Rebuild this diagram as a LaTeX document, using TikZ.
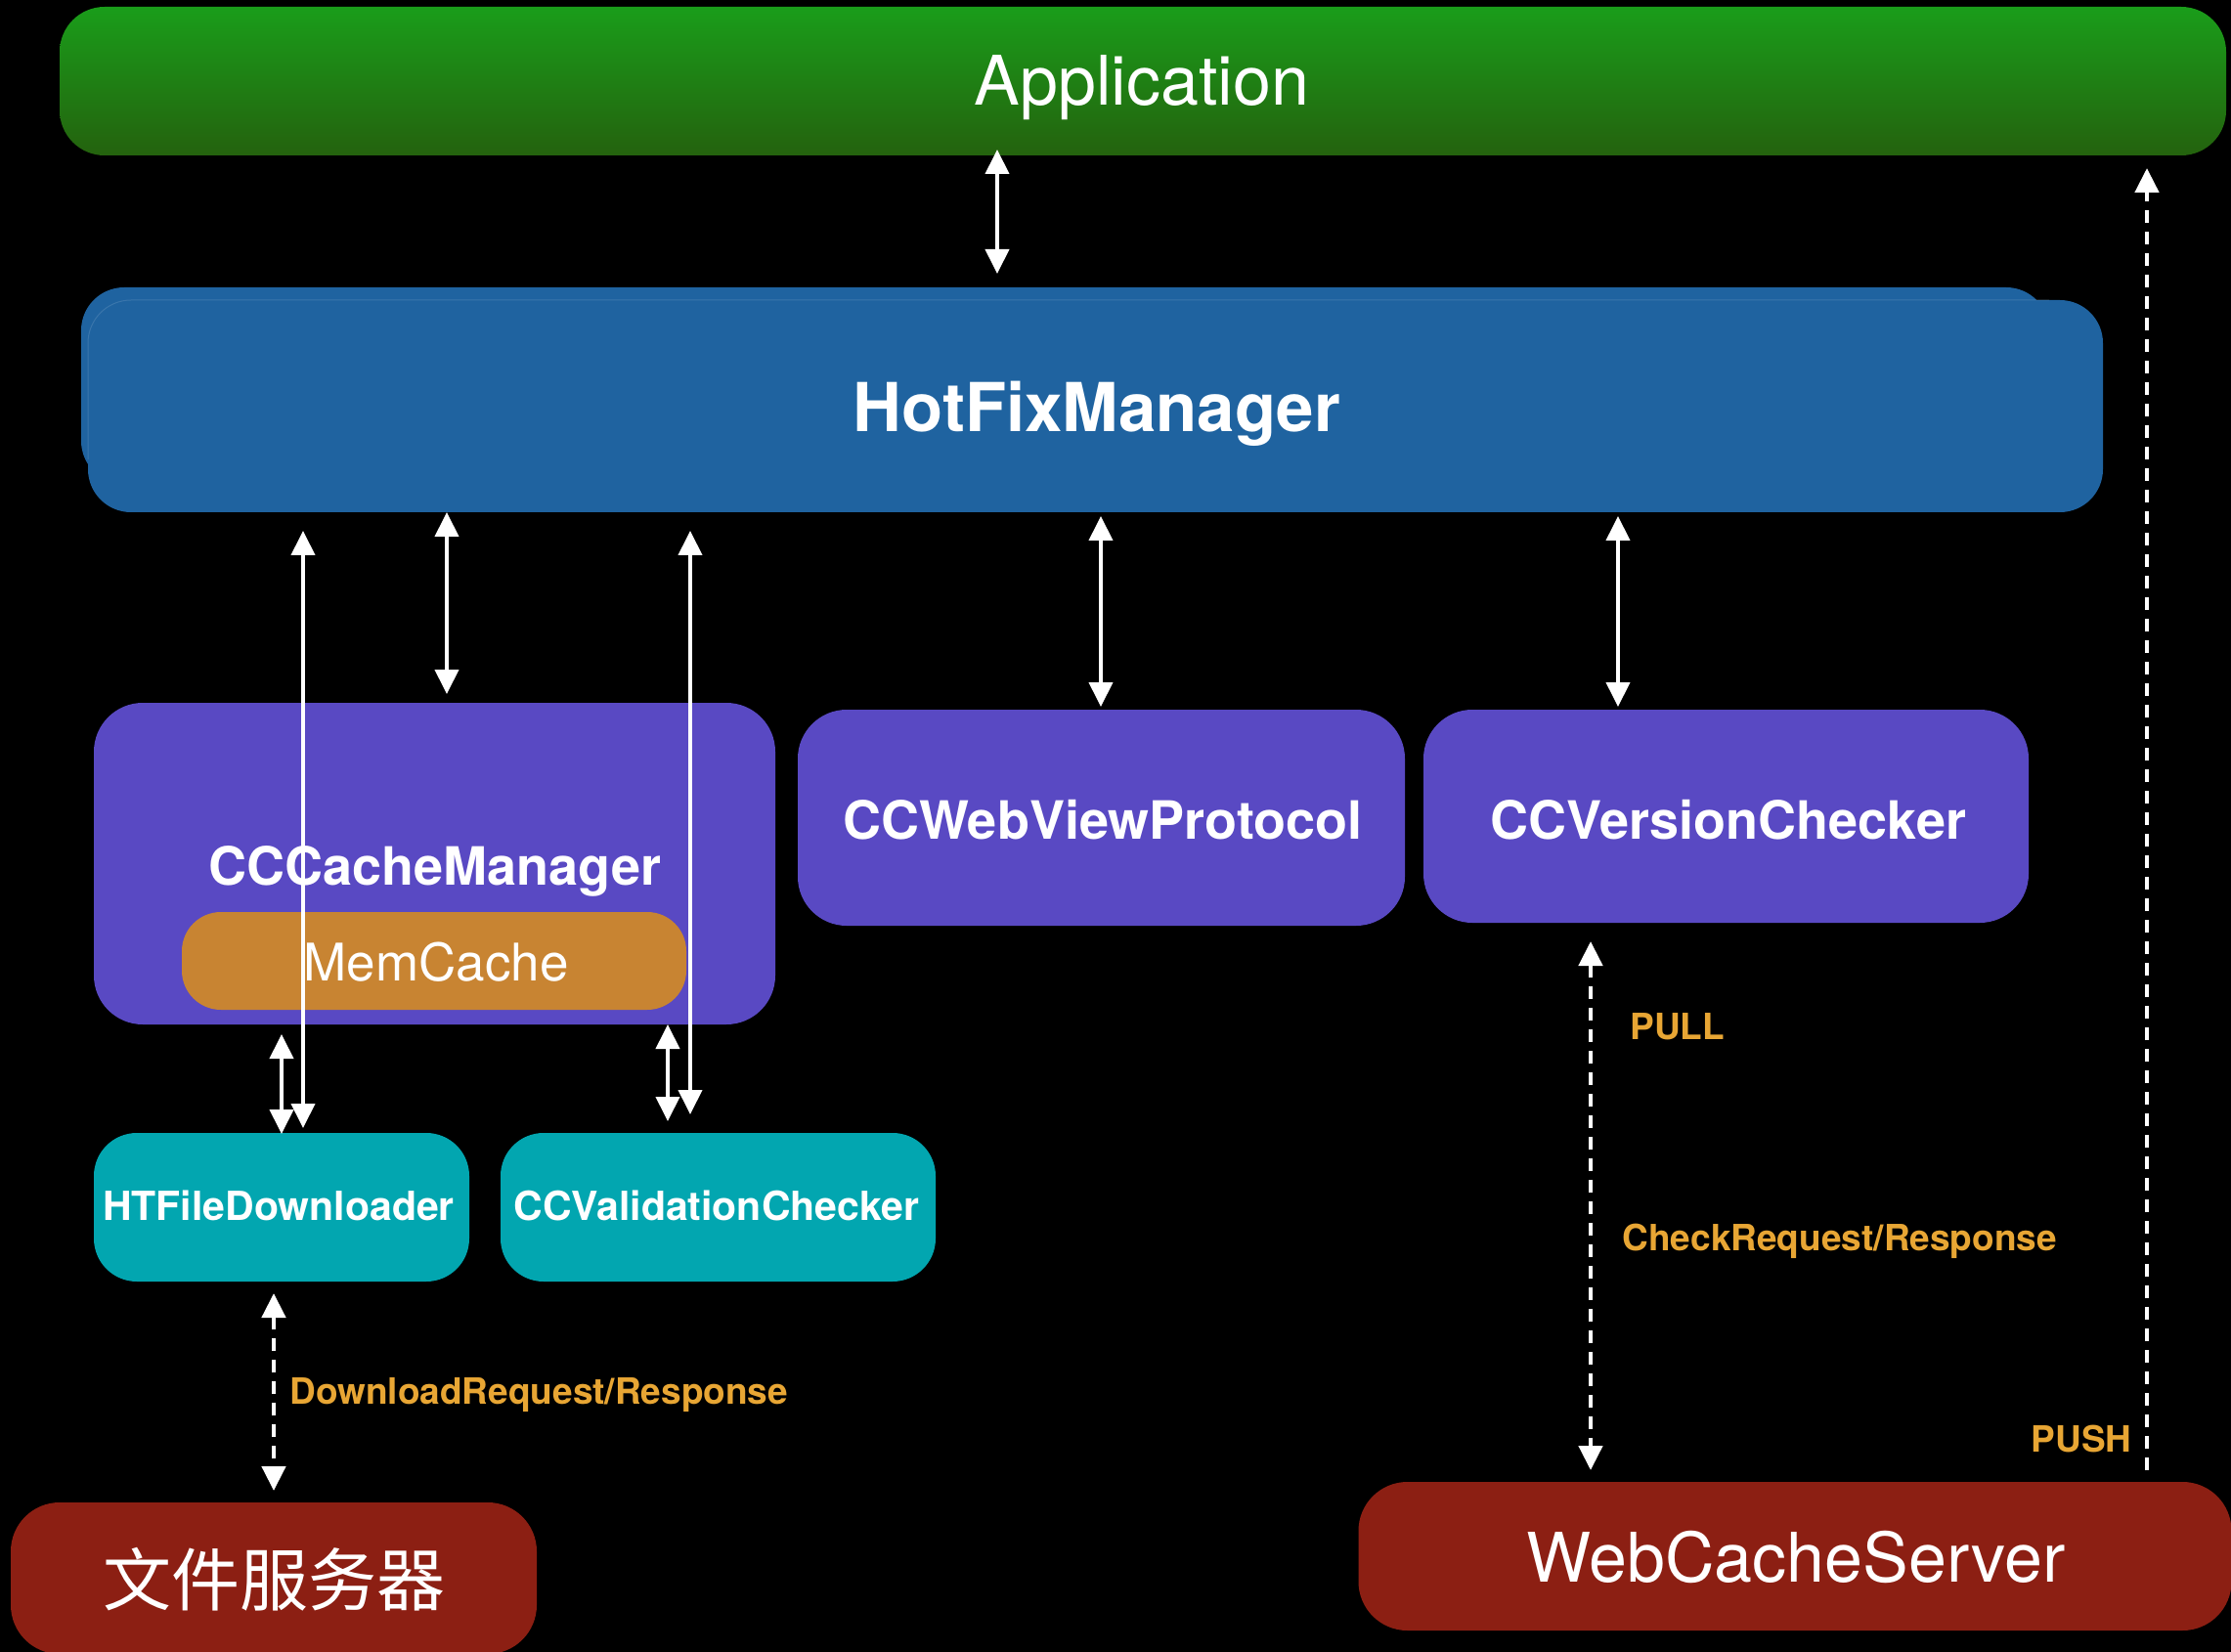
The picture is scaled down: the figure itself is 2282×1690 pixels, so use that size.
\documentclass[tikz,border=0pt]{standalone}
\usepackage{fontspec}
\setmainfont{TeX Gyre Heros}
\newfontfamily\cjkfont{Noto Sans CJK SC}
\usetikzlibrary{arrows.meta}
\definecolor{appgreenA}{RGB}{26,157,26}
\definecolor{appgreenB}{RGB}{36,98,14}
\definecolor{hfmblue}{RGB}{31,99,160}
\definecolor{purp}{RGB}{89,73,195}
\definecolor{tealbox}{RGB}{2,166,176}
\definecolor{memorange}{RGB}{200,132,50}
\definecolor{srvred}{RGB}{140,31,19}
\definecolor{lblorange}{RGB}{232,166,52}
\begin{document}
\begin{tikzpicture}[x=0.5pt,y=-0.5pt,
  >={Triangle[length=12.5pt,width=12pt]},
  box/.style={rounded corners=23pt, inner sep=0pt, outer sep=0pt},
  lab/.style={text=white, inner sep=0pt, anchor=base},
  boldlab/.style={lab, font=\bfseries\fontsize{27}{30}\selectfont},
  smalllab/.style={lab, font=\bfseries\fontsize{20.5}{24}\selectfont},
  lightlab/.style={lab, font=\fontsize{35}{40}\selectfont},
  conn/.style={white, line width=2pt},
  dconn/.style={conn, line width=2.3pt, dash pattern=on 6.5pt off 4.5pt},
  note/.style={text=lblorange, inner sep=0pt, font=\bfseries\fontsize{18.5}{22}\selectfont}]
\fill[black] (0,0) rectangle (2282,1690);
\useasboundingbox (0,0) rectangle (2282,1690);

% boxes
\node[box, top color=appgreenA, bottom color=appgreenB, minimum width=1108pt, minimum height=76pt] (app) at (1169,83) {};
\fill[hfmblue, rounded corners=22pt] (83,294) rectangle (2096,495);
\node[box, rounded corners=22pt, fill=hfmblue, minimum width=1030.5pt, minimum height=108.5pt] (hfm) at (1120.5,415.5) {};
\draw[white, opacity=0.12, line width=0.5pt, rounded corners=22pt] (90,470) -- (90,307) -- (2096,307);
\node[box, rounded corners=25pt, fill=purp, minimum width=348.5pt, minimum height=164.5pt] (ccm) at (444.5,883.5) {};
\node[box, rounded corners=20pt, fill=memorange, minimum width=258pt, minimum height=50pt] (mem) at (444,983) {};
\node[box, rounded corners=25pt, fill=purp, minimum width=310.5pt, minimum height=110.5pt] (web) at (1126.5,836.5) {};
\node[box, rounded corners=25pt, fill=purp, minimum width=309.5pt, minimum height=109pt] (ver) at (1765.5,835) {};
\node[box, rounded corners=22pt, fill=tealbox, minimum width=192pt, minimum height=76pt] (htf) at (288,1235) {};
\node[box, rounded corners=22pt, fill=tealbox, minimum width=222.5pt, minimum height=76pt] (val) at (734.5,1235) {};
\node[box, rounded corners=25pt, fill=srvred, minimum width=269pt, minimum height=77.5pt] (fsrv) at (280,1614.5) {};
\node[box, rounded corners=25pt, fill=srvred, minimum width=446.5pt, minimum height=76pt] (wcs) at (1836,1592) {};

% labels
\node[lightlab] (appl) at (1168,108) {Application};
\node[lab, font=\bfseries\fontsize{34.5}{40}\selectfont] (hfml) at (1122,442) {HotFixManager};
\node[boldlab] (ccml) at (445,905) {CCCacheManager};
\node[lab, font=\fontsize{26.5}{30}\selectfont] (meml) at (446,1003) {MemCache};
\node[boldlab] (webl) at (1128,858) {CCWebViewProtocol};
\node[boldlab] (verl) at (1768,858) {CCVersionChecker};
\node[smalllab] (htfl) at (285,1248) {HTFileDownloader};
\node[smalllab] (vall) at (733,1248) {CCValidationChecker};
\node[lab, font=\cjkfont\fontsize{35}{40}\selectfont] (fsrvl) at (280,1642) {文件服务器};
\node[lightlab] (wcsl) at (1837,1618) {WebCacheServer};

% connector end points
\coordinate (a0t) at (1020,153); \coordinate (a0b) at (1020,280);
\coordinate (a1t) at (310,543);  \coordinate (a1b) at (310,1154);
\coordinate (a2t) at (457,524);  \coordinate (a2b) at (457,710);
\coordinate (a3t) at (706,543);  \coordinate (a3b) at (706,1140);
\coordinate (a4t) at (1126,528); \coordinate (a4b) at (1126,723);
\coordinate (a5t) at (1655,528); \coordinate (a5b) at (1655,723);
\coordinate (a6t) at (288,1058); \coordinate (a6b) at (288,1160);
\coordinate (a7t) at (683,1048); \coordinate (a7b) at (683,1147);
\coordinate (d1t) at (280,1323); \coordinate (d1b) at (280,1525);
\coordinate (d2t) at (1627,963); \coordinate (d2b) at (1627,1504);
\coordinate (pt) at (2196,172);  \coordinate (pb) at (2196,1504);

% connectors
\draw[conn,<->] (a0t) -- (a0b);
\draw[conn,<->] (a1t) -- (a1b);
\draw[conn,<->] (a2t) -- (a2b);
\draw[conn,<->] (a3t) -- (a3b);
\draw[conn,<->] (a4t) -- (a4b);
\draw[conn,<->] (a5t) -- (a5b);
\draw[conn,<->] (a6t) -- (a6b);
\draw[conn,<->] (a7t) -- (a7b);
\draw[dconn,<->] (d1t) -- (d1b);
\draw[dconn,<->] (d2t) -- (d2b);
\draw[dconn,->] (pb) -- (pt);

% connector labels
\node[note, anchor=base west] (pull) at (1667,1063) {PULL};
\node[note, anchor=base west] (chk) at (1659,1279) {CheckRequest/Response};
\node[note, anchor=base west] (dl) at (296,1436) {DownloadRequest/Response};
\node[note, anchor=base east] (push) at (2181,1485) {PUSH};
\end{tikzpicture}
\end{document}
